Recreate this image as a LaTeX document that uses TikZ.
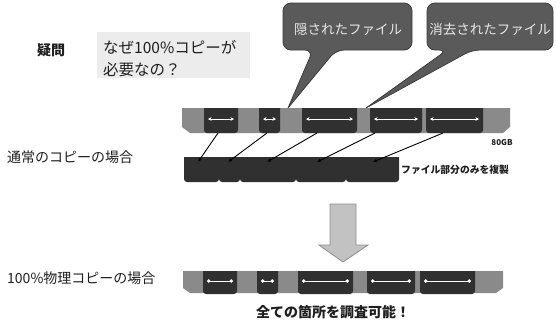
\documentclass[tikz,border=0pt]{standalone}
\usepackage{fontspec}
\setmainfont{Noto Sans CJK JP}
\usetikzlibrary{arrows.meta}
\definecolor{bargray}{HTML}{8A8A8A}
\definecolor{blk}{HTML}{303030}
\definecolor{callfill}{HTML}{5A5A5A}
\definecolor{callline}{HTML}{3C3C3C}
\definecolor{calltext}{HTML}{E8E8E8}
\definecolor{boxgray}{HTML}{ECECEC}
\definecolor{arrfill}{HTML}{C2C2C2}
\definecolor{arrline}{HTML}{8E8E8E}
\tikzset{
  fs/.style={font=\fontsize{#1}{#1}\selectfont},
  lbl/.style={inner sep=0pt, text=black!88},
  calltxt/.style={inner sep=0pt, text=calltext, fs=13.5},
  callout/.style={fill=callfill, draw=callline, line width=0.8pt},
  bar/.style={fill=bargray},
  block/.style={fill=blk},
  span/.style={draw=white, line width=1pt, {Stealth[length=3.5pt,width=3.5pt]}-{Stealth[length=3.5pt,width=3.5pt]}},
  spandot/.style={draw=white, line width=1pt, {Circle[length=3.5pt]}-{Circle[length=3.5pt]}},
  link/.style={draw=black, line width=0.9pt, -{Latex[length=4pt,width=3.5pt]}},
}
\begin{document}
\begin{tikzpicture}[x=1pt,y=-1pt]
\useasboundingbox (0,0) rectangle (556,325);
\fill[white] (0,0) rectangle (556,325);

% question
\node[lbl, fs=14, font=\bfseries\fontsize{14}{14}\selectfont] (q) at (51,50) {疑問};
\fill[boxgray] (97,32) rectangle (250,78);
\node[lbl, fs=15.5, anchor=west] (q1) at (103,47) {なぜ100\%コピーが};
\node[lbl, fs=15.5, anchor=west] (q2) at (103,70) {必要なの？};

% callouts
\coordinate (tip1) at (288,108);
\coordinate (tip2) at (366,108);
\draw[callout] (283,3) [rounded corners=8] -- (412,3) -- (412,50) -- (336,50) [sharp corners] -- (tip1) [rounded corners=8] -- (313,50) -- (283,50) -- cycle;
\draw[callout] (427,3) [rounded corners=8] -- (553,3) -- (553,50) -- (472,50) [sharp corners] -- (tip2) [rounded corners=8] -- (447,50) -- (427,50) -- cycle;
\node[calltxt] (c1) at (348,29) {隠されたファイル};
\node[calltxt] (c2) at (490,29) {消去されたファイル};

% top bar
\fill[bar] (182,108) -- (510,108) -- (510,127) -- (503,133) -- (190,133) -- (182,127) -- cycle;
\foreach \a/\b [count=\i] in {204/238,259/280,302/357,370/422,426/483}{
  \fill[block] (\a,108) [rounded corners=3] -- (\a,133) -- (\b,133) [sharp corners] -- (\b,108) -- cycle;
  \coordinate (tl\i) at (\a+4,119);
  \coordinate (tr\i) at (\b-4,119);
  \draw[span] (tl\i) -- (tr\i);
}
\node[lbl, fs=8, font=\bfseries\fontsize{8}{8}\selectfont] (gb) at (502,143) {80GB};

% copied parts
\foreach \a/\b [count=\i] in {184/219,219/240,240/296,296/346,346/399}{
  \fill[block] (\a,157) [rounded corners=3] -- (\a,182) -- (\b,182) [sharp corners] -- (\b,157) -- cycle;
}
\node[lbl, anchor=west, font=\bfseries\fontsize{9.8}{10}\selectfont] (fc) at (401,170) {ファイル部分のみを複製};
\node[lbl, fs=14, anchor=west] (normal) at (7,157) {通常のコピーの場合};

\foreach \sx/\ex [count=\i] in {218/198,267/228,317/267,375/317,443/373}{
  \coordinate (s\i) at (\sx,133);
  \coordinate (e\i) at (\ex,162);
  \draw[link] (s\i) -- (e\i);
}

% big down arrow
\draw[fill=arrfill, draw=arrline, line width=0.8pt] (330,204) -- (356,204) -- (356,245) -- (368,245) -- (343,262) -- (319,245) -- (330,245) -- cycle;

% bottom bar
\node[lbl, fs=14, anchor=west] (phys) at (7,278) {100\%物理コピーの場合};
\fill[bar] (183,271) -- (503,271) -- (503,288) -- (496,293) -- (190,293) -- (183,288) -- cycle;
\foreach \a/\b [count=\i] in {203/237,257/278,298/353,367/415,420/475}{
  \fill[block] (\a,271) [rounded corners=3] -- (\a,294) -- (\b,294) [sharp corners] -- (\b,271) -- cycle;
  \coordinate (bl\i) at (\a+4,281);
  \coordinate (br\i) at (\b-4,281);
  \draw[spandot] (bl\i) -- (br\i);
}
\node[lbl, font=\bfseries\fontsize{14}{14}\selectfont] (all) at (333,312) {全ての箇所を調査可能！};
\end{tikzpicture}
\end{document}
